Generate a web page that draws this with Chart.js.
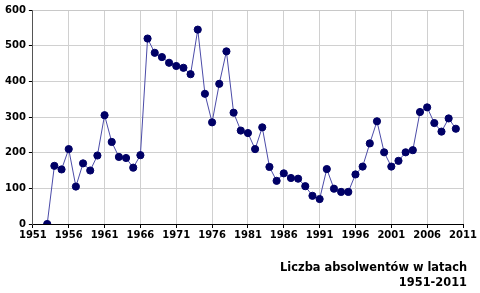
<!DOCTYPE html>
<html>
<head>
<meta charset="utf-8">
<script src="https://cdn.jsdelivr.net/npm/chart.js@4/dist/chart.umd.min.js"></script>
<style>
  html, body { margin: 0; padding: 0; background: #fff; }
  #wrap { width: 480px; height: 293px; position: relative; }
</style>
</head>
<body>
<div id="wrap"><canvas id="myChart"></canvas></div>
<script>
var years = [1953, 1954, 1955, 1956, 1957, 1958, 1959, 1960, 1961, 1962,
  1963, 1964, 1965, 1966, 1967, 1968, 1969, 1970, 1971, 1972,
  1973, 1974, 1975, 1976, 1977, 1978, 1979, 1980, 1981, 1982,
  1983, 1984, 1985, 1986, 1987, 1988, 1989, 1990, 1991, 1992,
  1993, 1994, 1995, 1996, 1997, 1998, 1999, 2000, 2001, 2002,
  2003, 2004, 2005, 2006, 2007, 2008, 2009, 2010];
var graduates = [0, 163, 153, 210, 105, 170, 150, 192, 305, 230,
  188, 185, 158, 193, 520, 480, 468, 452, 443, 438,
  420, 545, 365, 285, 393, 484, 312, 262, 255, 210,
  271, 160, 121, 142, 129, 127, 106, 79, 70, 154,
  99, 90, 90, 139, 161, 226, 288, 201, 161, 177,
  201, 207, 314, 327, 283, 259, 296, 267];
var titleLines = ['Liczba absolwentów w latach', '1951-2011'];

var points = years.map(function(y, i) { return { x: y, y: graduates[i] } });

var ctx = document.getElementById('myChart').getContext('2d');
var chart = new Chart(ctx, {
  type: 'scatter',
  data: {
    datasets: [{
      data: points,
      showLine: true,
      borderColor: '#4b4ba8',
      borderWidth: 1,
      backgroundColor: '#000066',
      pointBackgroundColor: '#000066',
      pointBorderColor: '#000066',
      pointRadius: 3.6,
    }]
  },
  options: {
    responsive: true,
    maintainAspectRatio: false,
    animation: false,
    layout: { padding: { left: 2, right: 17, top: 10, bottom: 51 } },
    plugins: {
      legend: { display: false },
      tooltip: { enabled: false }
    },
    scales: {
      x: {
        type: 'linear',
        min: 1951,
        max: 2011,
        ticks: {
          stepSize: 5,
          color: '#000',
          padding: 1,
          maxRotation: 0,
          font: { family: 'DejaVu Sans', weight: 'bold', size: 10 },
          callback: function(v) { return String(v) }
        },
        grid: { color: '#d0d0d0', tickColor: '#000', tickLength: 4 },
        border: { color: '#000' }
      },
      y: {
        min: 0,
        max: 600,
        ticks: {
          stepSize: 100,
          color: '#000',
          padding: 3,
          font: { family: 'DejaVu Sans', weight: 'bold', size: 10 }
        },
        grid: { color: '#d0d0d0', tickColor: '#000', tickLength: 4 },
        border: { color: '#555' }
      }
    }
  },
  plugins: [{
    id: 'frameAndTitle',
    afterDraw: function(c) {
      var a = c.chartArea, g = c.ctx;
      g.save();
      g.strokeStyle = '#c8c8c8';
      g.lineWidth = 1;
      g.beginPath();
      g.moveTo(a.left, a.top + 0.5);
      g.lineTo(a.right + 0.5, a.top + 0.5);
      g.lineTo(a.right + 0.5, a.bottom);
      g.stroke();
      g.fillStyle = '#000';
      g.font = 'bold 11.4px "DejaVu Sans"';
      g.textAlign = 'right';
      g.textBaseline = 'alphabetic';
      g.fillText(titleLines[0], 467, 271);
      g.fillText(titleLines[1], 467, 285.5);
      g.restore();
    }
  }]
});
</script>
</body>
</html>
